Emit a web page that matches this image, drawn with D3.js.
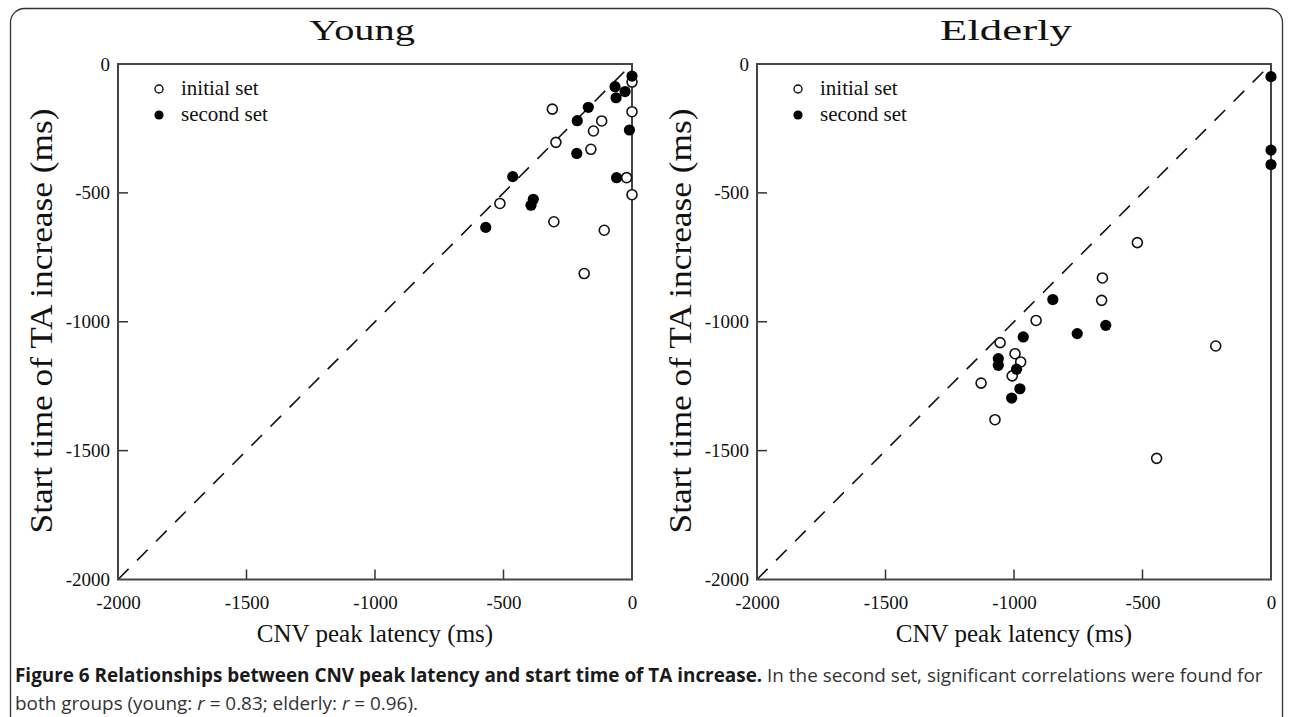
<!DOCTYPE html>
<html>
<head>
<meta charset="utf-8">
<script src="https://cdn.jsdelivr.net/npm/d3@7/dist/d3.min.js"></script>
<style>
  html, body { margin: 0; padding: 0; background: #fff; }
  svg { display: block; }
</style>
</head>
<body>
<svg id="chart" width="1290" height="717"></svg>
<script>
// ---- Data (ms) ----
const panelTitles = ["Young", "Elderly"];
const tickValues = [-2000, -1500, -1000, -500, 0];
const tickLabels = ["-2000", "-1500", "-1000", "-500", "0"];
const legendLabels = ["initial set", "second set"];

// Young: [CNV peak latency, start time of TA increase]
const youngInitialX = [0, -310, 0, -118, -150, -296, -160, -21, 0, -514, -304, -108, -186];
const youngInitialY = [-70, -175, -185, -221, -260, -304, -331, -441, -507, -541, -612, -645, -813];
const youngSecondX  = [0, -66, -27, -62, -170, -213, -10, -215, -60, -464, -384, -393, -569];
const youngSecondY  = [-47, -88, -107, -131, -168, -220, -256, -347, -441, -437, -525, -548, -634];

// Elderly
const elderlyInitialX = [-520, -656, -659, -914, -1054, -996, -974, -1007, -1128, -1074, -215, -445];
const elderlyInitialY = [-693, -830, -917, -995, -1081, -1124, -1156, -1210, -1238, -1380, -1094, -1530];
const elderlySecondX  = [0, 0, 0, -849, -643, -754, -964, -1061, -1061, -990, -977, -1009];
const elderlySecondY  = [-49, -334, -390, -914, -1014, -1046, -1059, -1143, -1169, -1184, -1260, -1296];

const xTitle = "CNV peak latency (ms)";
const yTitle = "Start time of TA increase (ms)";

// ---- Drawing ----
const svg = d3.select("#chart");
const serif = "'Liberation Serif', 'Times New Roman', serif";
const fmt = d => tickLabels[tickValues.indexOf(d)];

// outer rounded frame
svg.append("rect")
  .attr("x", 10.5).attr("y", 8.5)
  .attr("width", 1272).attr("height", 740)
  .attr("rx", 14).attr("ry", 14)
  .attr("fill", "none").attr("stroke", "#333").attr("stroke-width", 1.3);

const panels = [
  { left: 118, title: panelTitles[0], titleX: 362, titleW: 106,
    initial: youngInitialX.map((x, i) => [x, youngInitialY[i]]),
    second: youngSecondX.map((x, i) => [x, youngSecondY[i]]) },
  { left: 757, title: panelTitles[1], titleX: 1006, titleW: 132,
    initial: elderlyInitialX.map((x, i) => [x, elderlyInitialY[i]]),
    second: elderlySecondX.map((x, i) => [x, elderlySecondY[i]]) }
];

const plotSize = 514, plotTop = 64;

panels.forEach(p => {
  const x = d3.scaleLinear().domain([-2000, 0]).range([p.left, p.left + plotSize]);
  const y = d3.scaleLinear().domain([-2000, 0]).range([plotTop + plotSize + 1.5, plotTop]);
  const g = svg.append("g");

  // diagonal dashed identity line
  g.append("line")
    .attr("x1", x(-2000)).attr("y1", y(-2000))
    .attr("x2", x(0)).attr("y2", y(0))
    .attr("stroke", "#111").attr("stroke-width", 1.6)
    .attr("stroke-dasharray", "15,12");

  // axis labels
  const xAxis = g.append("g")
    .attr("transform", `translate(0,${y(-2000)})`)
    .call(d3.axisBottom(x).tickValues(tickValues).tickSize(0).tickPadding(16).tickFormat(fmt));
  xAxis.select(".domain").remove();
  xAxis.selectAll("text").attr("font-family", serif).attr("font-size", 19).attr("fill", "#111");

  const yAxis = g.append("g")
    .attr("transform", `translate(${x(-2000)},0)`)
    .call(d3.axisLeft(y).tickValues(tickValues).tickSize(0).tickPadding(8).tickFormat(fmt));
  yAxis.select(".domain").remove();
  yAxis.selectAll("text").attr("font-family", serif).attr("font-size", 19).attr("fill", "#111");

  // inner ticks
  [-1500, -1000, -500].forEach(v => {
    g.append("line").attr("x1", x(v)).attr("x2", x(v))
      .attr("y1", y(-2000)).attr("y2", y(-2000) - 10)
      .attr("stroke", "#333").attr("stroke-width", 1.5);
    g.append("line").attr("y1", y(v)).attr("y2", y(v))
      .attr("x1", x(-2000)).attr("x2", x(-2000) + 10)
      .attr("stroke", "#333").attr("stroke-width", 1.5);
  });

  // frame
  g.append("rect")
    .attr("x", x(-2000)).attr("y", y(0))
    .attr("width", x(0) - x(-2000)).attr("height", y(-2000) - y(0))
    .attr("fill", "none").attr("stroke", "#444").attr("stroke-width", 2);

  // points
  g.selectAll(".ini").data(p.initial).enter().append("circle")
    .attr("cx", d => x(d[0])).attr("cy", d => y(d[1])).attr("r", 5)
    .attr("fill", "#fff").attr("stroke", "#111").attr("stroke-width", 1.6);
  g.selectAll(".sec").data(p.second).enter().append("circle")
    .attr("cx", d => x(d[0])).attr("cy", d => y(d[1])).attr("r", 5.6)
    .attr("fill", "#000");

  // legend
  const lx = p.left + 41;
  g.append("circle").attr("cx", lx).attr("cy", 89).attr("r", 4)
    .attr("fill", "#fff").attr("stroke", "#111").attr("stroke-width", 1.4);
  g.append("circle").attr("cx", lx).attr("cy", 115).attr("r", 4.6).attr("fill", "#000");
  g.append("text").attr("x", lx + 22).attr("y", 95)
    .attr("font-family", serif).attr("font-size", 21).attr("fill", "#111").text(legendLabels[0]);
  g.append("text").attr("x", lx + 22).attr("y", 121)
    .attr("font-family", serif).attr("font-size", 21).attr("fill", "#111").text(legendLabels[1]);

  // titles
  g.append("text").attr("x", p.titleX).attr("y", 40)
    .attr("text-anchor", "middle").attr("font-family", serif).attr("font-size", 30)
    .attr("textLength", p.titleW).attr("lengthAdjust", "spacingAndGlyphs")
    .attr("fill", "#111").text(p.title);
  g.append("text").attr("x", p.left + plotSize / 2).attr("y", 642)
    .attr("text-anchor", "middle").attr("font-family", serif).attr("font-size", 25)
    .attr("fill", "#111").text(xTitle);
  g.append("text")
    .attr("transform", `translate(${p.left - 66},${plotTop + plotSize / 2}) rotate(-90)`)
    .attr("text-anchor", "middle").attr("font-family", serif).attr("font-size", 31)
    .attr("textLength", 425).attr("lengthAdjust", "spacingAndGlyphs")
    .attr("fill", "#111").text(yTitle);
});

// caption
const sans = "'Open Sans', 'Noto Sans', sans-serif";
const cap1 = svg.append("text").attr("x", 15).attr("y", 682)
  .attr("font-family", sans).attr("font-size", 18.9).attr("fill", "#333");
cap1.append("tspan").attr("font-weight", "bold").attr("fill", "#1a1a1a")
  .text("Figure 6 Relationships between CNV peak latency and start time of TA increase.");
cap1.append("tspan").text(" In the second set, significant correlations were found for");

const cap2 = svg.append("text").attr("x", 15).attr("y", 710)
  .attr("font-family", sans).attr("font-size", 18.9).attr("fill", "#333");
cap2.append("tspan").text("both groups (young: ");
cap2.append("tspan").attr("font-style", "italic").text("r");
cap2.append("tspan").text(" = 0.83; elderly: ");
cap2.append("tspan").attr("font-style", "italic").text("r");
cap2.append("tspan").text(" = 0.96).");
</script>
</body>
</html>
